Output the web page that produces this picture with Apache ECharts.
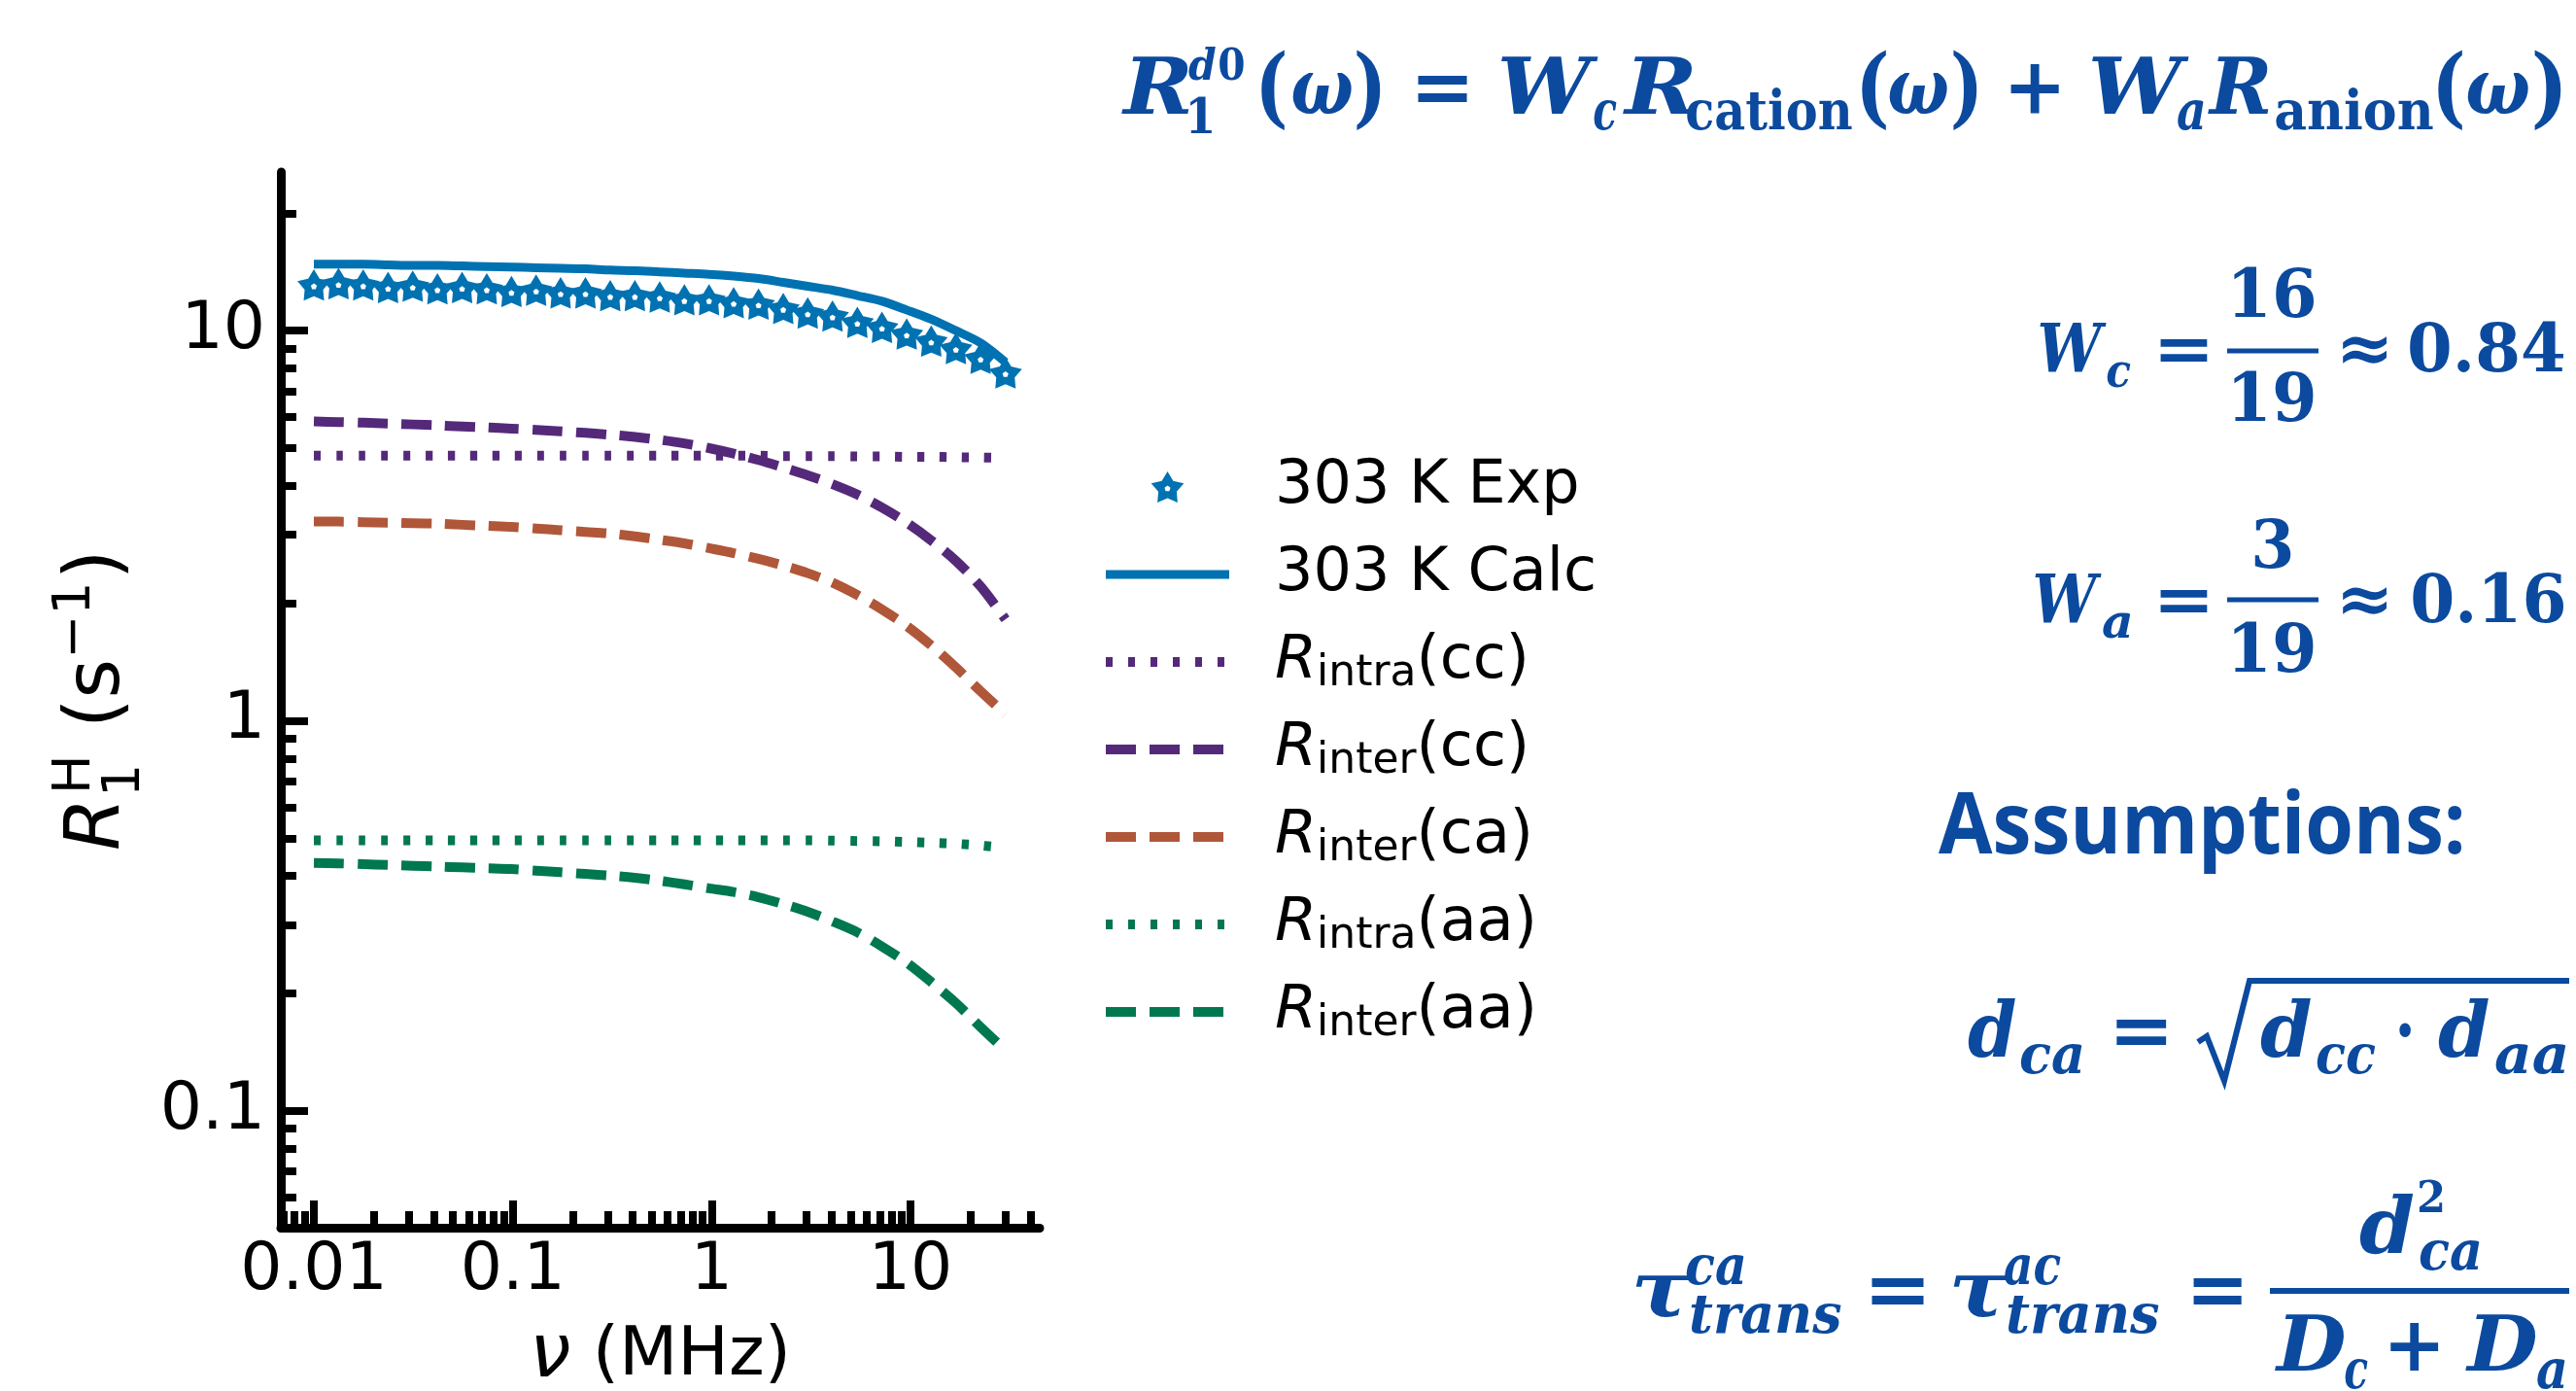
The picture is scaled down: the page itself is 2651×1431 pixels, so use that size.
<!DOCTYPE html>
<html>
<head>
<meta charset="utf-8">
<script src="https://cdn.jsdelivr.net/npm/echarts@6/dist/echarts.min.js"></script>
<style>
html,body{margin:0;padding:0;background:#fff;}
#chart{width:2651px;height:1431px;}
</style>
</head>
<body>
<div id="chart"></div>
<script>
// ---------------- data ----------------
const freqMHz = [0.01, 0.0133, 0.0177, 0.0236, 0.0314, 0.0418, 0.0556, 0.074, 0.0985, 0.131, 0.174, 0.232, 0.309, 0.411, 0.548, 0.729, 0.97, 1.29, 1.72, 2.29, 3.04, 4.05, 5.4, 7.18, 9.56, 12.7, 16.9, 22.5, 30];
const exp303 = [13.1, 13.2, 13.1, 12.9, 13.0, 12.8, 12.9, 12.8, 12.6, 12.7, 12.5, 12.5, 12.3, 12.3, 12.2, 12.0, 12.0, 11.8, 11.7, 11.4, 11.1, 10.9, 10.5, 10.2, 9.8, 9.4, 9.0, 8.5, 7.8];
const calc303 = [14.8, 14.8, 14.8, 14.75, 14.7, 14.7, 14.65, 14.6, 14.55, 14.5, 14.45, 14.4, 14.3, 14.25, 14.15, 14.05, 13.95, 13.8, 13.6, 13.3, 13.0, 12.7, 12.3, 11.9, 11.3, 10.7, 10.0, 9.3, 8.3];
const intraCC = [4.78, 4.78, 4.78, 4.78, 4.78, 4.78, 4.78, 4.78, 4.78, 4.78, 4.78, 4.78, 4.78, 4.78, 4.78, 4.78, 4.78, 4.78, 4.78, 4.77, 4.77, 4.77, 4.76, 4.76, 4.75, 4.75, 4.74, 4.73, 4.72];
const interCC = [5.85, 5.83, 5.81, 5.78, 5.75, 5.72, 5.68, 5.65, 5.61, 5.57, 5.52, 5.47, 5.41, 5.34, 5.25, 5.14, 5.00, 4.84, 4.66, 4.46, 4.26, 4.04, 3.80, 3.52, 3.22, 2.90, 2.57, 2.21, 1.82];
const interCA = [3.24, 3.24, 3.23, 3.22, 3.21, 3.20, 3.18, 3.16, 3.14, 3.11, 3.08, 3.05, 3.02, 2.97, 2.91, 2.85, 2.77, 2.69, 2.60, 2.50, 2.39, 2.26, 2.10, 1.93, 1.75, 1.56, 1.37, 1.19, 1.04];
const intraAA = [0.494, 0.494, 0.494, 0.494, 0.494, 0.494, 0.494, 0.494, 0.494, 0.494, 0.494, 0.494, 0.494, 0.494, 0.494, 0.494, 0.494, 0.494, 0.494, 0.494, 0.494, 0.493, 0.492, 0.491, 0.489, 0.487, 0.484, 0.479, 0.472];
const interAA = [0.432, 0.431, 0.429, 0.427, 0.425, 0.423, 0.421, 0.419, 0.417, 0.413, 0.409, 0.405, 0.401, 0.396, 0.389, 0.381, 0.372, 0.364, 0.353, 0.339, 0.324, 0.306, 0.287, 0.264, 0.240, 0.214, 0.189, 0.164, 0.143];

const xMajorTicks = [0.01, 0.1, 1, 10];
const xMinorTicks = [0.007, 0.008, 0.009, 0.02, 0.03, 0.04, 0.05, 0.06, 0.07, 0.08, 0.09, 0.2, 0.3, 0.4, 0.5, 0.6, 0.7, 0.8, 0.9, 2, 3, 4, 5, 6, 7, 8, 9, 20, 30, 40];
const yMajorTicks = [0.1, 1, 10];
const yMinorTicks = [0.06, 0.07, 0.08, 0.09, 0.2, 0.3, 0.4, 0.5, 0.6, 0.7, 0.8, 0.9, 2, 3, 4, 5, 6, 7, 8, 9, 20];

const seriesNames = ['303 K Exp', '303 K Calc', 'Rintra(cc)', 'Rinter(cc)', 'Rinter(ca)', 'Rintra(aa)', 'Rinter(aa)'];
const legendLabels = {
  '303 K Exp': '303 K Exp',
  '303 K Calc': '303 K Calc',
  'Rintra(cc)': '{i|R}{s|intra}(cc)',
  'Rinter(cc)': '{i|R}{s|inter}(cc)',
  'Rinter(ca)': '{i|R}{s|inter}(ca)',
  'Rintra(aa)': '{i|R}{s|intra}(aa)',
  'Rinter(aa)': '{i|R}{s|inter}(aa)'
};

// ---------------- styles ----------------
const C_BLUE = '#0072B2', C_PURPLE = '#55297A', C_BROWN = '#B0573A', C_GREEN = '#00784F';
const EQ_BLUE = '#0B4A9E';
const DOT = [7, 16], DASH = [31, 14];
// chunky filled star with a small hole in the middle
const STAR = 'path://M50 0L66.5 27.3L97.6 34.5L76.6 58.7L79.4 90.5L50 78L20.6 90.5L23.4 58.7L2.4 34.5L33.5 27.3Z M50 41L41.4 47.2L44.7 57.3L55.3 57.3L58.6 47.2Z';

function pairs(ys) { return freqMHz.map((f, i) => [f, ys[i]]); }
function lineSeries(name, ys, color, dash, width) {
  return {
    name, type: 'line', data: pairs(ys), symbol: 'none', smooth: 0.3, z: 3,
    lineStyle: { color, width, type: dash, cap: 'butt', join: 'round' },
    itemStyle: { color }
  };
}

// ---------------- text helpers for annotations ----------------
const mctx = document.createElement('canvas').getContext('2d');
function fontStr(size, st, fam) {
  return (st.indexOf('i') >= 0 ? 'italic ' : '') + (st.indexOf('b') >= 0 ? 'bold ' : '') + size + 'px ' + fam;
}
function midToBase(font) {
  mctx.font = font;
  mctx.textBaseline = 'middle';
  const a = mctx.measureText('H').actualBoundingBoxDescent;
  mctx.textBaseline = 'alphabetic';
  const b = mctx.measureText('H').actualBoundingBoxDescent;
  return a - b;
}
function piece(t, x0, x1, base, size, st, fam, fill) {
  fam = fam || '"DejaVu Serif"';
  const font = fontStr(size, st, fam);
  mctx.font = font; mctx.textBaseline = 'alphabetic';
  const m = mctx.measureText(t);
  const L = m.actualBoundingBoxLeft, R = m.actualBoundingBoxRight;
  const s = (x1 == null) ? 1 : (x1 - x0) / (L + R);
  return {
    type: 'text', x: x0 + s * L, y: base - midToBase(font), scaleX: s, silent: true, z: 100,
    style: { text: t, x: 0, y: 0, font: font, fill: fill || EQ_BLUE, align: 'left', verticalAlign: 'middle' }
  };
}
function bar(x0, x1, y, w) {
  return { type: 'line', silent: true, z: 100, shape: { x1: x0, y1: y, x2: x1, y2: y }, style: { stroke: EQ_BLUE, lineWidth: w } };
}

const eqElements = [
  // R_1^{d0}(w) = W_c R_cation(w) + W_a R_anion(w)
  piece('R', 1154, 1224, 117, 80, 'bi'),
  piece('d', 1223, 1251, 82, 44, 'bi'),
  piece('0', 1255, 1280, 82, 44, 'b'),
  piece('1', 1225, 1247, 137, 50, 'b'),
  piece('(', 1298, 1322, 120, 90, 'b'),
  piece('ω', 1330, 1392, 117, 80, 'bi'),
  piece(')', 1396, 1421, 120, 90, 'b'),
  piece('=', 1459, 1510, 117, 80, 'b'),
  piece('W', 1545, 1645, 117, 80, 'bi'),
  piece('c', 1640, 1664, 133, 56, 'bi'),
  piece('R', 1670, 1743, 117, 80, 'bi'),
  piece('cation', 1736, 1906, 133, 56, 'b'),
  piece('(', 1916, 1941, 120, 90, 'b'),
  piece('ω', 1944, 2005, 117, 80, 'bi'),
  piece(')', 2010, 2035, 120, 90, 'b'),
  piece('+', 2069, 2119, 117, 80, 'b'),
  piece('W', 2153, 2253, 117, 80, 'bi'),
  piece('a', 2240, 2268, 133, 56, 'bi'),
  piece('R', 2272, 2335, 117, 80, 'bi'),
  piece('anion', 2342, 2504, 133, 56, 'b'),
  piece('(', 2509, 2534, 120, 90, 'b'),
  piece('ω', 2539, 2603, 117, 80, 'bi'),
  piece(')', 2608, 2636, 120, 90, 'b'),
  // W_c = 16/19 ≈ 0.84
  piece('W', 2099, 2168, 382, 70, 'bi'),
  piece('c', 2168, 2193, 398, 49, 'bi'),
  piece('=', 2223, 2272, 382, 70, 'b'),
  piece('16', 2299, 2381, 326, 70, 'b'),
  bar(2292, 2386, 361, 5),
  piece('19', 2299, 2381, 433, 70, 'b'),
  piece('≈', 2411, 2457, 382, 70, 'b'),
  piece('0.84', 2480, 2638, 382, 70, 'b'),
  // W_a = 3/19 ≈ 0.16
  piece('W', 2094, 2163, 640, 70, 'bi'),
  piece('a', 2163, 2193, 656, 49, 'bi'),
  piece('=', 2223, 2272, 640, 70, 'b'),
  piece('3', 2320, 2358, 584, 70, 'b'),
  bar(2292, 2386, 617, 5),
  piece('19', 2299, 2381, 691, 70, 'b'),
  piece('≈', 2411, 2457, 640, 70, 'b'),
  piece('0.16', 2483, 2638, 640, 70, 'b'),
  // Assumptions:
  piece('Assumptions:', 1995, 2534, 878, 88, 'b', '"Open Sans"'),
  // d_ca = sqrt(d_cc · d_aa)
  piece('d', 2025, 2074, 1087, 78, 'bi'),
  piece('ca', 2079, 2143, 1104, 56, 'bi'),
  piece('=', 2178, 2230, 1087, 78, 'b'),
  { type: 'polyline', silent: true, z: 100, shape: { points: [[2262, 1072], [2271, 1066], [2289, 1112], [2315, 1009], [2644, 1009]] }, style: { stroke: EQ_BLUE, lineWidth: 6, fill: null, lineJoin: 'miter' } },
  piece('d', 2326, 2378, 1087, 78, 'bi'),
  piece('cc', 2384, 2445, 1104, 56, 'bi'),
  piece('·', 2469, 2481, 1087, 78, 'b'),
  piece('d', 2509, 2561, 1087, 78, 'bi'),
  piece('aa', 2567, 2641, 1104, 56, 'bi'),
  // tau^ca_trans = tau^ac_trans = d_ca^2 / (D_c + D_a)
  piece('τ', 1683, 1740, 1354, 80, 'bi'),
  piece('ca', 1735, 1795, 1321, 56, 'bi'),
  piece('trans', 1740, 1895, 1371, 56, 'bi'),
  piece('=', 1926, 1980, 1354, 80, 'b'),
  piece('τ', 2010, 2066, 1354, 80, 'bi'),
  piece('ac', 2062, 2121, 1321, 56, 'bi'),
  piece('trans', 2066, 2222, 1371, 56, 'bi'),
  piece('=', 2257, 2307, 1354, 80, 'b'),
  bar(2336, 2644, 1328, 6),
  piece('d', 2428, 2484, 1289, 80, 'bi'),
  piece('2', 2490, 2514, 1247, 45, 'b'),
  piece('ca', 2490, 2552, 1306, 56, 'bi'),
  piece('D', 2341, 2415, 1410, 78, 'bi'),
  piece('c', 2413, 2437, 1428, 56, 'bi'),
  piece('+', 2460, 2510, 1410, 78, 'b'),
  piece('D', 2537, 2612, 1410, 78, 'bi'),
  piece('a', 2610, 2640, 1428, 56, 'bi')
];

// y-axis title  R_1^H (s^-1), rotated
const SANS = '"DejaVu Sans"';
const yTitle = {
  type: 'group', x: 122, y: 873, rotation: Math.PI / 2, silent: true,
  children: [
    piece('R', 0, null, 0, 78, 'i', SANS, '#000'),
    piece('1', 58, null, 21, 54, '', SANS, '#000'),
    piece('H', 61, null, -30, 54, '', SANS, '#000'),
    piece('(s', 130, null, 0, 78, '', SANS, '#000'),
    piece('−1', 200, null, -30, 54, '', SANS, '#000'),
    piece(')', 283, null, 0, 78, '', SANS, '#000')
  ]
};

// ---------------- chart ----------------
const chart = echarts.init(document.getElementById('chart'), null, { renderer: 'canvas' });
const X_MIN = 0.00682, X_MAX = 44.6, Y_MIN = 0.0502, Y_MAX = 25.5;
const labelFont = { fontFamily: 'DejaVu Sans', fontSize: 68, color: '#000' };
const fmt = v => String(+Number(v).toPrecision(2));

const option = {
  backgroundColor: '#fff',
  animation: false,
  grid: { left: 289, top: 177, width: 781, height: 1086, containLabel: false, outerBoundsMode: 'none' },
  xAxis: [
    {
      type: 'log', logBase: 10, min: X_MIN, max: X_MAX, position: 'bottom',
      axisLine: { show: true, onZero: false, lineStyle: { color: '#000', width: 9 } },
      axisTick: { show: true, inside: true, length: 28, lineStyle: { color: '#000', width: 8 }, customValues: xMajorTicks },
      axisLabel: { show: true, margin: 11, ...labelFont, formatter: fmt, customValues: xMajorTicks },
      minorTick: { show: false }, splitLine: { show: false },
      name: '{i|ν} (MHz)', nameLocation: 'middle', nameGap: 93, nameMoveOverlap: false,
      nameTextStyle: { fontFamily: 'DejaVu Sans', fontSize: 70, color: '#000', lineHeight: 80,
        rich: { i: { fontFamily: 'DejaVu Sans', fontStyle: 'italic', fontSize: 76, lineHeight: 80, color: '#000' } } }
    },
    {
      type: 'log', logBase: 10, min: X_MIN, max: X_MAX, position: 'bottom',
      axisLine: { show: false },
      axisTick: { show: true, inside: true, length: 17, lineStyle: { color: '#000', width: 8 }, customValues: xMinorTicks },
      axisLabel: { show: false }, minorTick: { show: false }, splitLine: { show: false }
    }
  ],
  yAxis: [
    {
      type: 'log', logBase: 10, min: Y_MIN, max: Y_MAX, position: 'left',
      axisLine: { show: true, onZero: false, lineStyle: { color: '#000', width: 9 } },
      axisTick: { show: true, inside: true, length: 28, lineStyle: { color: '#000', width: 8 }, customValues: yMajorTicks },
      axisLabel: { show: true, margin: 16, ...labelFont, formatter: fmt, customValues: yMajorTicks },
      minorTick: { show: false }, splitLine: { show: false }
    },
    {
      type: 'log', logBase: 10, min: Y_MIN, max: Y_MAX, position: 'left',
      axisLine: { show: false },
      axisTick: { show: true, inside: true, length: 16, lineStyle: { color: '#000', width: 8 }, customValues: yMinorTicks },
      axisLabel: { show: false }, minorTick: { show: false }, splitLine: { show: false }
    }
  ],
  legend: {
    orient: 'vertical', left: 1133, top: 466, padding: 0,
    itemWidth: 127, itemHeight: 32, itemGap: 20, symbolKeepAspect: true,
    selectedMode: false,
    data: seriesNames.map(n => n === '303 K Exp' ? { name: n } : { name: n, itemStyle: { opacity: 0 } }),
    formatter: name => legendLabels[name],
    lineStyle: { width: 'inherit' },
    textStyle: {
      fontFamily: 'DejaVu Sans', fontSize: 62, color: '#000', lineHeight: 70, padding: [0, 0, 0, 42],
      rich: {
        i: { fontFamily: 'DejaVu Sans', fontStyle: 'italic', fontSize: 62, lineHeight: 70, color: '#000' },
        s: { fontFamily: 'DejaVu Sans', fontSize: 44, lineHeight: 40, verticalAlign: 'bottom', color: '#000' }
      }
    }
  },
  series: [
    lineSeries('303 K Calc', calc303, C_BLUE, 'solid', 9),
    lineSeries('Rintra(cc)', intraCC, C_PURPLE, DOT, 10),
    lineSeries('Rinter(cc)', interCC, C_PURPLE, DASH, 10),
    lineSeries('Rinter(ca)', interCA, C_BROWN, DASH, 10),
    lineSeries('Rintra(aa)', intraAA, C_GREEN, DOT, 10),
    lineSeries('Rinter(aa)', interAA, C_GREEN, DASH, 10),
    {
      name: '303 K Exp', type: 'scatter', data: pairs(exp303), z: 5,
      symbol: STAR, symbolSize: 34, symbolKeepAspect: true,
      itemStyle: { color: C_BLUE, borderWidth: 0, opacity: 1 }
    }
  ],
  graphic: { elements: eqElements.concat([yTitle]) }
};
chart.setOption(option);
</script>
</body>
</html>
